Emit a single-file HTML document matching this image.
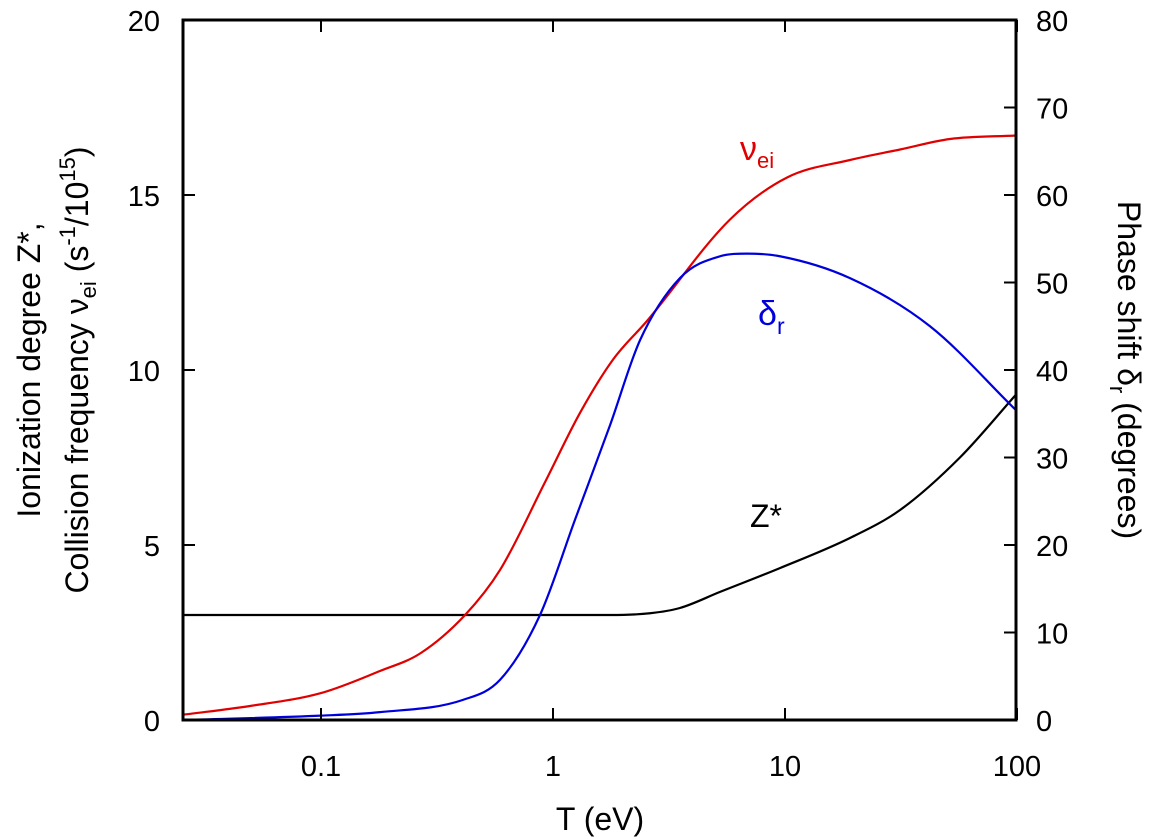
<!DOCTYPE html>
<html><head><meta charset="utf-8"><style>
body{margin:0;background:#fff}
svg text{font-family:"Liberation Sans",Arial,sans-serif}
</style></head><body>
<svg width="1152" height="839" id="c" style="position:absolute;left:0;top:0">
</svg>
<script>
const redLogT=[-1.595,-1.306,-1,-0.746,-0.573,-0.379,-0.228,-0.034,0.116,0.259,0.405,0.763,1.009,1.28,1.496,1.711,1.996];
const redVals=[0.15,0.4,0.77,1.4,1.9,3.0,4.29,6.8,8.77,10.3,11.4,14.3,15.5,16.0,16.3,16.6,16.7];
const blueLogT=[-1.595,-1,-0.746,-0.388,-0.228,-0.056,0.095,0.246,0.375,0.547,0.72,0.836,0.978,1.28,1.625,1.996];
const blueVals=[0,0.5,0.9,2.3,4.6,12,22.9,33.7,43.4,50.5,53.0,53.3,53,50.5,45,35.4];
const zLogT=[-1.595,0.246,0.418,0.547,0.72,0.978,1.28,1.496,1.754,1.996];
const zVals=[3,3,3.05,3.2,3.66,4.34,5.2,6.0,7.5,9.3];
const xTicks=[0.1,1,10,100];
const xTickLabels=["0.1","1","10","100"];
const leftTicks=[0,5,10,15,20];
const rightTicks=[0,10,20,30,40,50,60,70,80];
const L=183,R=1016,T=20,B=720;
const X=lt=>321+(lt+1)*232;
const YL=v=>B-(v/20)*(B-T);
const YR=v=>B-(v/80)*(B-T);
const svg=document.getElementById('c');
const NS='http://www.w3.org/2000/svg';
function mk(tag,attrs,parent){const e=document.createElementNS(NS,tag);for(const k in attrs)e.setAttribute(k,attrs[k]);(parent||svg).appendChild(e);return e;}
function smooth(pts){
  const n=pts.length,d=[],m=[];
  for(let i=0;i<n-1;i++)d.push((pts[i+1][1]-pts[i][1])/(pts[i+1][0]-pts[i][0]));
  m[0]=d[0];m[n-1]=d[n-2];
  for(let i=1;i<n-1;i++){m[i]=(d[i-1]*d[i]<=0)?0:(d[i-1]+d[i])/2;}
  for(let i=0;i<n-1;i++){if(d[i]===0){m[i]=0;m[i+1]=0;continue;}const a=m[i]/d[i],b=m[i+1]/d[i],s=a*a+b*b;if(s>9){const t=3/Math.sqrt(s);m[i]=t*a*d[i];m[i+1]=t*b*d[i];}}
  let p=`M${pts[0][0]},${pts[0][1]}`;
  for(let i=0;i<n-1;i++){const h=(pts[i+1][0]-pts[i][0])/3;p+=` C${pts[i][0]+h},${pts[i][1]+m[i]*h} ${pts[i+1][0]-h},${pts[i+1][1]-m[i+1]*h} ${pts[i+1][0]},${pts[i+1][1]}`;}
  return p;}
function series(lt,vals,yf,color,name){const p=mk('path',{d:smooth(lt.map((t,i)=>[X(t),yf(vals[i])])),fill:'none',stroke:color,'stroke-width':2.2});

}
series(zLogT,zVals,YL,'#000','z-star-line');
series(redLogT,redVals,YL,'#e00000','collision-frequency-line');
series(blueLogT,blueVals,YR,'#0000dd','phase-shift-line');
const frame=mk('rect',{x:L,y:T,width:R-L,height:B-T,fill:'none',stroke:'#000','stroke-width':3});


xTicks.forEach((v,i)=>{const x=X(Math.log10(v));
mk('line',{x1:x,x2:x,y1:B,y2:B-12,stroke:'#000','stroke-width':2});
mk('line',{x1:x,x2:x,y1:T,y2:T+12,stroke:'#000','stroke-width':2});
const t=mk('text',{x:x,y:B+56,'text-anchor':'middle','font-size':29});t.textContent=xTickLabels[i];

});
leftTicks.forEach(v=>{const y=YL(v);mk('line',{x1:L,x2:L+12,y1:y,y2:y,stroke:'#000','stroke-width':2});
const t=mk('text',{x:160,y:y+11,'text-anchor':'end','font-size':29});t.textContent=v;

});
rightTicks.forEach(v=>{const y=YR(v);mk('line',{x1:R,x2:R-12,y1:y,y2:y,stroke:'#000','stroke-width':2});
const t=mk('text',{x:1036,y:y+11,'text-anchor':'start','font-size':29});t.textContent=v;

});
</script>
<svg width="1152" height="839" style="position:absolute;left:0;top:0">
<text x="600" y="830" text-anchor="middle" font-size="32" font-family="Liberation Sans">T (eV)</text>
<text transform="translate(40,370) rotate(-90)" text-anchor="middle" font-size="32" font-family="Liberation Sans">Ionization degree Z*,</text>
<text transform="translate(88,370) rotate(-90)" text-anchor="middle" font-size="32" font-family="Liberation Sans">Collision frequency ν<tspan font-size="22" dy="8">ei</tspan><tspan dy="-8"> (s</tspan><tspan font-size="22" dy="-13">-1</tspan><tspan dy="13">/10</tspan><tspan font-size="22" dy="-13">15</tspan><tspan dy="13">)</tspan></text>
<text transform="translate(1118,370) rotate(90)" text-anchor="middle" font-size="32" font-family="Liberation Sans">Phase shift δ<tspan font-size="22" dy="8">r</tspan><tspan dy="-8"> (degrees)</tspan></text>
<text x="740" y="160" fill="#e00000" font-size="34" font-family="Liberation Sans">ν<tspan font-size="22" dy="8">ei</tspan></text>
<text x="758" y="325" fill="#0000dd" font-size="34" font-family="Liberation Sans">δ<tspan font-size="23" dy="9">r</tspan></text>
<text x="750" y="527" fill="#000" font-size="32" font-family="Liberation Sans">Z*</text>
</svg>
</body></html>
